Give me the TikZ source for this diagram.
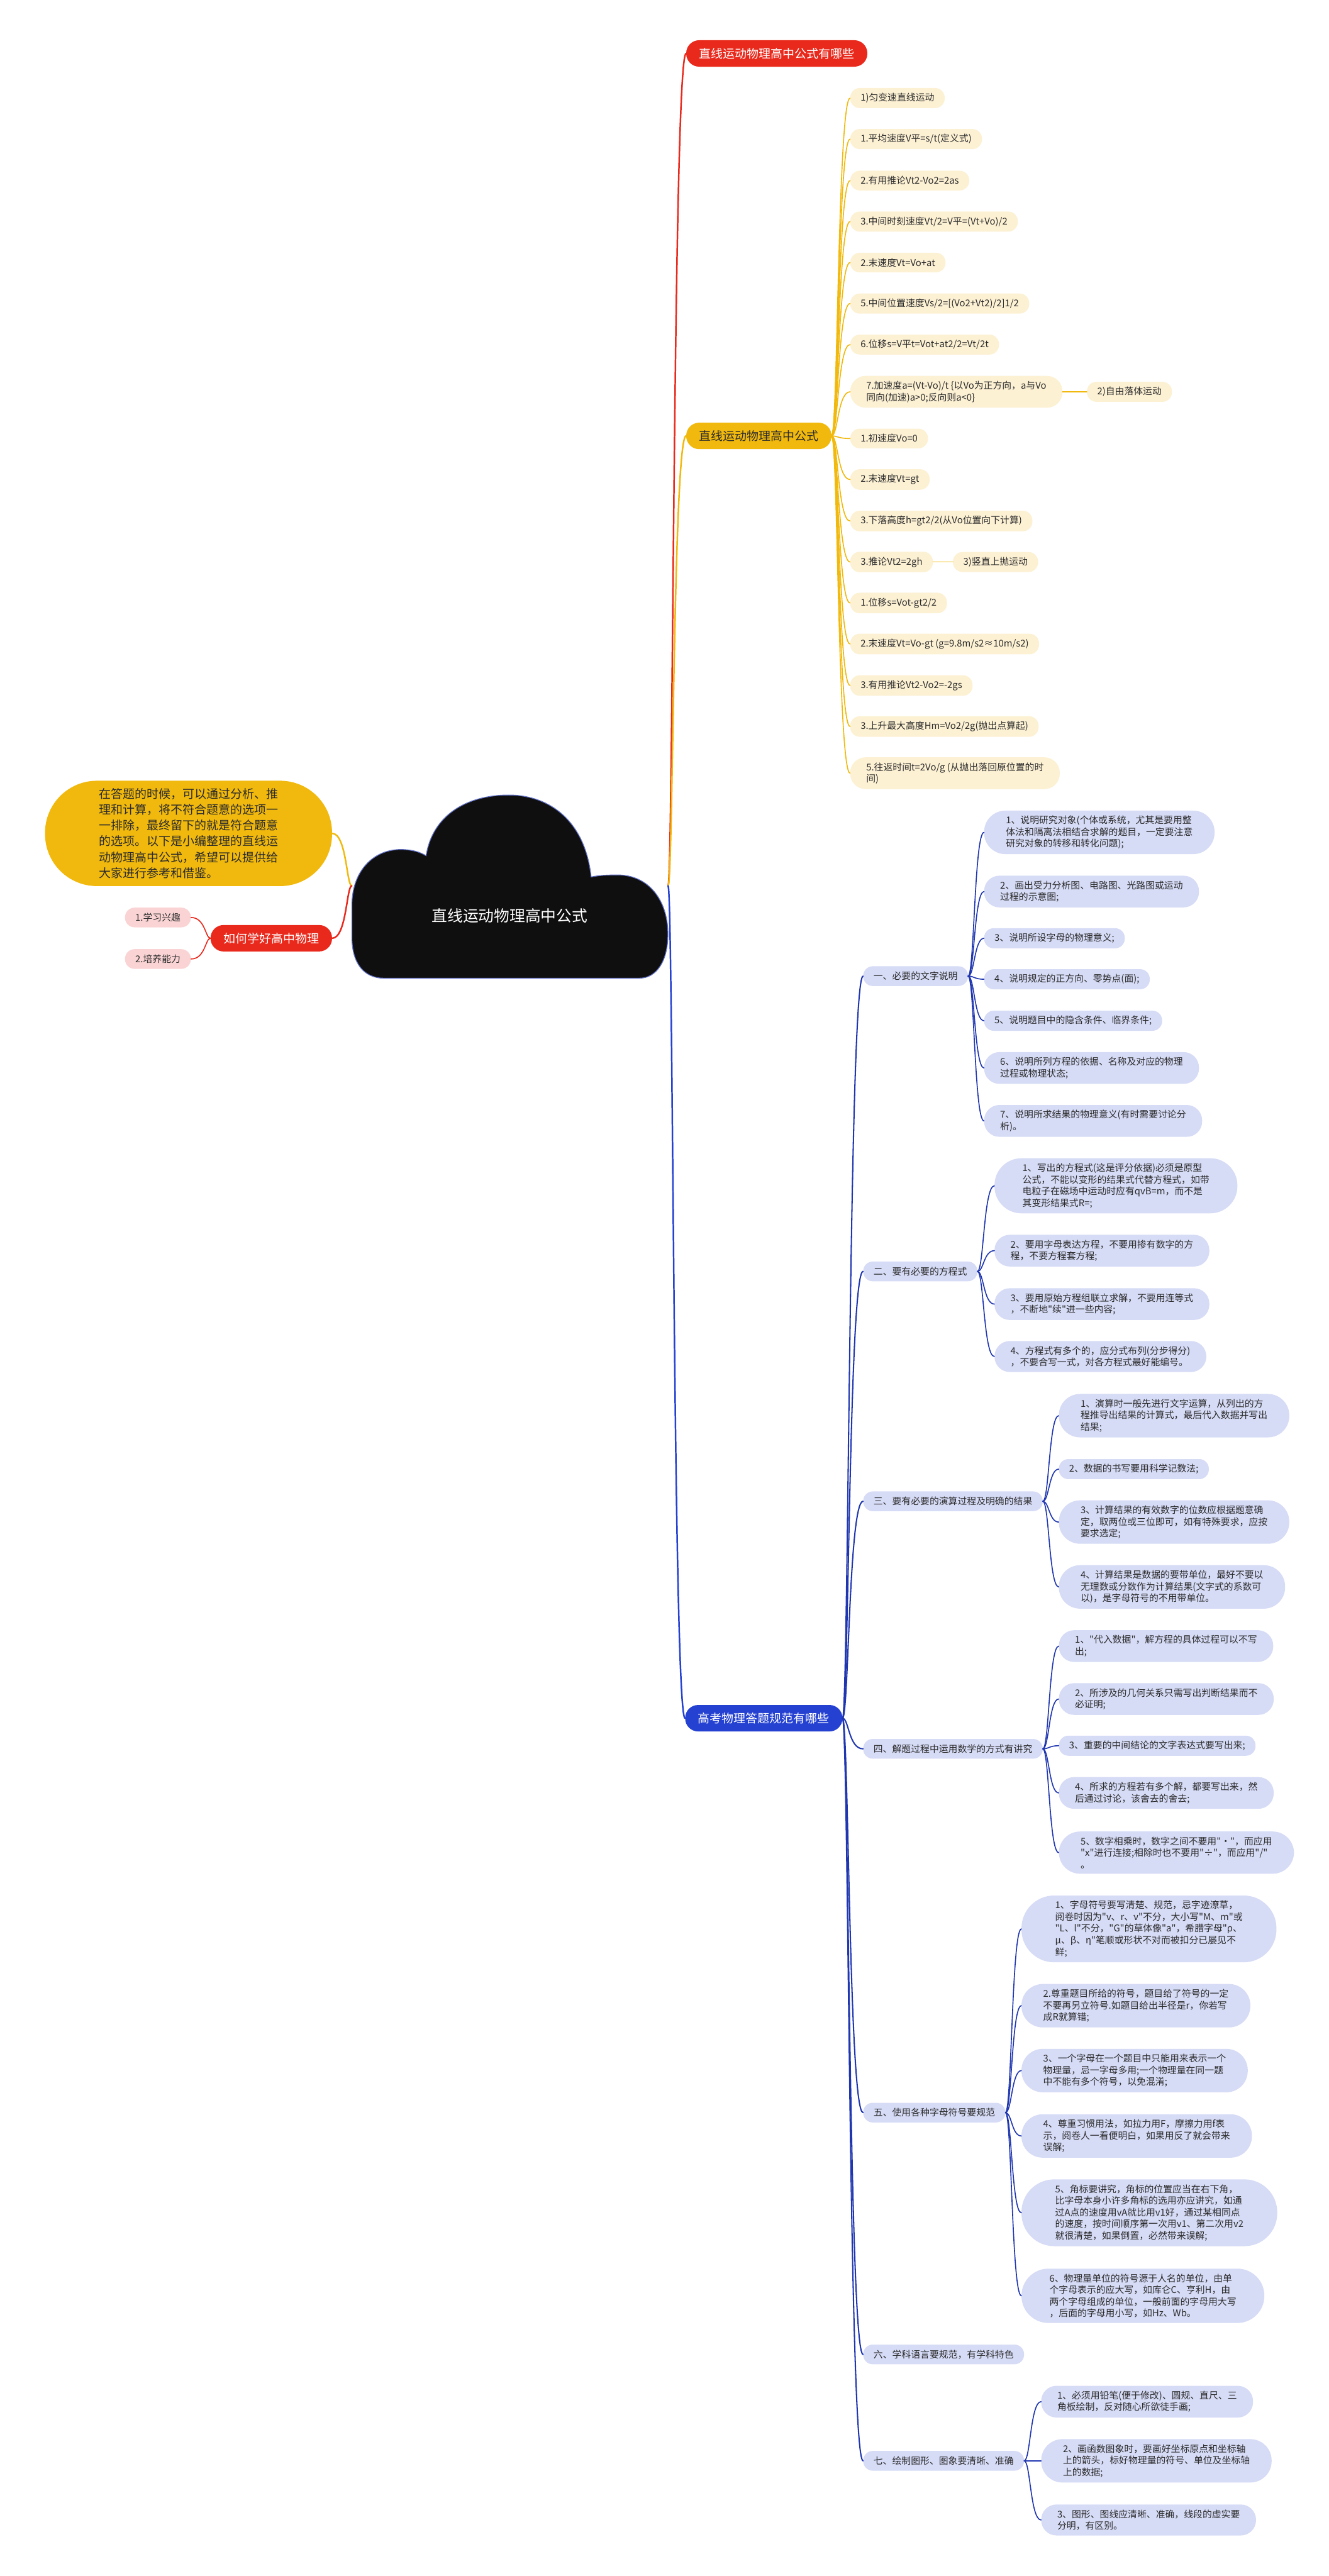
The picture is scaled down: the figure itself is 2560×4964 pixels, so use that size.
\documentclass[tikz,border=0pt]{standalone}
\usepackage{fontspec}
\usepackage{tikz}
\usetikzlibrary{calc}
\newfontfamily\cjk{Noto Sans CJK SC}
\definecolor{mapred}{HTML}{E9291C}
\definecolor{mapgold}{HTML}{F1B90D}
\definecolor{mapcream}{HTML}{FDF1D4}
\definecolor{mapblue}{HTML}{2441D2}
\definecolor{mapline}{HTML}{1F36B0}
\definecolor{maplav}{HTML}{D6DBF6}
\definecolor{mappink}{HTML}{FAD4D4}
\definecolor{mapink}{HTML}{2B2B2B}
\definecolor{cloudink}{HTML}{0F0F10}
\tikzset{
  topic/.style={rectangle, rounded corners=25pt, fill=#1, text=white, inner xsep=25pt, inner ysep=0pt,
                minimum height=51pt, font=\cjk\fontsize{23}{28}\selectfont},
  leaf/.style={rectangle, rounded corners=18.5pt, fill=#1, text=mapink, inner xsep=20pt, inner ysep=10pt,
               minimum height=38pt, align=left, font=\cjk\fontsize{18}{22.5}\selectfont},
  lines2/.style={rounded corners=29.5pt, inner xsep=31pt},
  lines3/.style={rounded corners=41pt, inner xsep=42pt},
  lines4/.style={rounded corners=52pt, inner xsep=54pt},
  lines5/.style={rounded corners=63pt, inner xsep=65pt},
  notebox/.style={rectangle, rounded corners=100pt, fill=mapgold, text=mapink, inner xsep=104pt, inner ysep=14pt,
                  minimum height=203pt, align=left, font=\cjk\fontsize{23}{30.5}\selectfont},
  rootbox/.style={rectangle, minimum width=609pt, minimum height=355pt, inner sep=0pt},
  roottitle/.style={text=white, inner sep=0pt, font=\cjk\fontsize{30}{36}\selectfont},
  trunk/.style={draw=#1, line width=3pt, line cap=round},
  twig/.style={draw=#1, line width=2pt, line cap=round},
}
% curve from a parent's east side to a child's west side
\newcommand{\mapcurve}[3]{\draw[#1] (#2.east) .. controls ($(#2.east)+(12,0)$) and ($(#2.east |- #3.west)+(12,0)$) .. (#3.west);}

\begin{document}
\begin{tikzpicture}[x=1pt,y=-1pt]
\useasboundingbox (0,0) rectangle (2560,4964);

% cloud
\filldraw[fill=cloudink, draw=mapline!70, line width=1.5pt] (740,1885)
  .. controls (700,1885) and (678,1855) .. (678,1805) -- (678,1745)
  .. controls (678,1680) and (718,1637) .. (772,1637)
  .. controls (792,1637) and (808,1641) .. (821,1649)
  .. controls (833,1572) and (898,1532) .. (980,1532)
  .. controls (1062,1532) and (1128,1585) .. (1139,1690)
  .. controls (1152,1687) and (1168,1686) .. (1190,1686)
  .. controls (1250,1686) and (1287,1735) .. (1287,1800)
  .. controls (1287,1852) and (1265,1885) .. (1232,1885) -- cycle;
\node[rootbox] (root) at (982.5,1707) {};
\node[roottitle] (title) at (982,1765) {直线运动物理高中公式};

% left side
\node[notebox, anchor=east] (note) at (640,1606) {在答题的时候，可以通过分析、推\\理和计算，将不符合题意的选项一\\一排除，最终留下的就是符合题意\\的选项。以下是小编整理的直线运\\动物理高中公式，希望可以提供给\\大家进行参考和借鉴。};
\node[topic=mapred, anchor=east] (howto) at (640,1808) {如何学好高中物理};
\node[leaf=mappink, anchor=east] (p1) at (368,1768) {1.学习兴趣};
\node[leaf=mappink, anchor=east] (p2) at (368,1848) {2.培养能力};

\draw[trunk=mapgold] (root.west) .. controls ($(root.west)+(-10,0)$) and ($(root.west |- note.east)+(-10,0)$) .. (note.east);
\draw[trunk=mapred] (root.west) .. controls ($(root.west)+(-10,0)$) and ($(root.west |- howto.east)+(-10,0)$) .. (howto.east);
\foreach \p in {p1,p2}
  \draw[twig=mapred] (howto.west) .. controls ($(howto.west)+(-10,0)$) and ($(howto.west |- \p.east)+(-10,0)$) .. (\p.east);

% main branches
\node[topic=mapred, anchor=west] (rb) at (1322,103) {直线运动物理高中公式有哪些};
\node[topic=mapgold, text=mapink, anchor=west] (yb) at (1322,840) {直线运动物理高中公式};
\node[topic=mapblue, anchor=west] (bb) at (1320,3311) {高考物理答题规范有哪些};

\draw[trunk=mapred] (root.east) .. controls ($(root.east)+(10,0)$) and ($(root.east |- rb.west)+(10,0)$) .. (rb.west);
\draw[trunk=mapgold] (root.east) .. controls ($(root.east)+(10,0)$) and ($(root.east |- yb.west)+(10,0)$) .. (yb.west);
\draw[trunk=mapblue] (root.east) .. controls ($(root.east)+(10,0)$) and ($(root.east |- bb.west)+(10,0)$) .. (bb.west);

% formulas
\node[leaf=mapcream, anchor=west] (y1) at (1638,189) {1)匀变速直线运动};
\node[leaf=mapcream, anchor=west] (y2) at (1638,268) {1.平均速度V平=s/t(定义式)};
\node[leaf=mapcream, anchor=west] (y3) at (1638,348) {2.有用推论Vt2-Vo2=2as};
\node[leaf=mapcream, anchor=west] (y4) at (1638,427) {3.中间时刻速度Vt/2=V平=(Vt+Vo)/2};
\node[leaf=mapcream, anchor=west] (y5) at (1638,506) {2.末速度Vt=Vo+at};
\node[leaf=mapcream, anchor=west] (y6) at (1638,585) {5.中间位置速度Vs/2=[(Vo2+Vt2)/2]1/2};
\node[leaf=mapcream, anchor=west] (y7) at (1638,664) {6.位移s=V平t=Vot+at2/2=Vt/2t};
\node[leaf=mapcream, lines2, anchor=west] (y8) at (1638,755) {7.加速度a=(Vt-Vo)/t \{以Vo为正方向，a与Vo\\同向(加速)a>0;反向则a<0\}};
\node[leaf=mapcream, anchor=west] (y9) at (1638,845) {1.初速度Vo=0};
\node[leaf=mapcream, anchor=west] (y10) at (1638,924) {2.末速度Vt=gt};
\node[leaf=mapcream, anchor=west] (y11) at (1638,1004) {3.下落高度h=gt2/2(从Vo位置向下计算)};
\node[leaf=mapcream, anchor=west] (y12) at (1638,1083) {3.推论Vt2=2gh};
\node[leaf=mapcream, anchor=west] (y13) at (1638,1162) {1.位移s=Vot-gt2/2};
\node[leaf=mapcream, anchor=west] (y14) at (1638,1241) {2.末速度Vt=Vo-gt (g=9.8m/s2≈10m/s2)};
\node[leaf=mapcream, anchor=west] (y15) at (1638,1321) {3.有用推论Vt2-Vo2=-2gs};
\node[leaf=mapcream, anchor=west] (y16) at (1638,1400) {3.上升最大高度Hm=Vo2/2g(抛出点算起)};
\node[leaf=mapcream, lines2, anchor=west] (y17) at (1638,1490) {5.往返时间t=2Vo/g (从抛出落回原位置的时\\间)};
\node[leaf=mapcream, anchor=west] (yfall) at (2094,755) {2)自由落体运动};
\node[leaf=mapcream, anchor=west] (yup) at (1836,1083) {3)竖直上抛运动};

\foreach \n in {1,...,17} {\mapcurve{twig=mapgold}{yb}{y\n}}
\draw[twig=mapgold] (y8.east) -- (yfall.west);
\draw[twig=mapgold] (y12.east) -- (yup.west);

% answer rules
\node[leaf=maplav, anchor=west] (s1) at (1663,1881) {一、必要的文字说明};
\node[leaf=maplav, anchor=west] (s2) at (1663,2450) {二、要有必要的方程式};
\node[leaf=maplav, anchor=west] (s3) at (1663,2893) {三、要有必要的演算过程及明确的结果};
\node[leaf=maplav, anchor=west] (s4) at (1663,3370) {四、解题过程中运用数学的方式有讲究};
\node[leaf=maplav, anchor=west] (s5) at (1663,4071) {五、使用各种字母符号要规范};
\node[leaf=maplav, anchor=west] (s6) at (1663,4537) {六、学科语言要规范，有学科特色};
\node[leaf=maplav, anchor=west] (s7) at (1663,4742) {七、绘制图形、图象要清晰、准确};
\foreach \n in {1,...,7} {\mapcurve{twig=mapline, line width=2.5pt}{bb}{s\n}}

\node[leaf=maplav, lines3, anchor=west] (s1i1) at (1896,1604) {1、说明研究对象(个体或系统，尤其是要用整\\体法和隔离法相结合求解的题目，一定要注意\\研究对象的转移和转化问题);};
\node[leaf=maplav, lines2, anchor=west] (s1i2) at (1896,1718) {2、画出受力分析图、电路图、光路图或运动\\过程的示意图;};
\node[leaf=maplav, anchor=west] (s1i3) at (1896,1808) {3、说明所设字母的物理意义;};
\node[leaf=maplav, anchor=west] (s1i4) at (1896,1887) {4、说明规定的正方向、零势点(面);};
\node[leaf=maplav, anchor=west] (s1i5) at (1896,1967) {5、说明题目中的隐含条件、临界条件;};
\node[leaf=maplav, lines2, anchor=west] (s1i6) at (1896,2058) {6、说明所列方程的依据、名称及对应的物理\\过程或物理状态;};
\node[leaf=maplav, lines2, anchor=west] (s1i7) at (1896,2160) {7、说明所求结果的物理意义(有时需要讨论分\\析)。};
\foreach \n in {1,...,7} {\mapcurve{twig=mapline}{s1}{s1i\n}}

\node[leaf=maplav, lines4, anchor=west] (s2i1) at (1916,2285) {1、写出的方程式(这是评分依据)必须是原型\\公式，不能以变形的结果式代替方程式，如带\\电粒子在磁场中运动时应有qvB=m，而不是\\其变形结果式R=;};
\node[leaf=maplav, lines2, anchor=west] (s2i2) at (1916,2410) {2、要用字母表达方程，不要用掺有数字的方\\程，不要方程套方程;};
\node[leaf=maplav, lines2, anchor=west] (s2i3) at (1916,2513) {3、要用原始方程组联立求解，不要用连等式\\，不断地"续"进一些内容;};
\node[leaf=maplav, lines2, anchor=west] (s2i4) at (1916,2614) {4、方程式有多个的，应分式布列(分步得分)\\，不要合写一式，对各方程式最好能编号。};
\foreach \n in {1,...,4} {\mapcurve{twig=mapline}{s2}{s2i\n}}

\node[leaf=maplav, lines3, anchor=west] (s3i1) at (2040,2728) {1、演算时一般先进行文字运算，从列出的方\\程推导出结果的计算式，最后代入数据并写出\\结果;};
\node[leaf=maplav, anchor=west] (s3i2) at (2040,2831) {2、数据的书写要用科学记数法;};
\node[leaf=maplav, lines3, anchor=west] (s3i3) at (2040,2933) {3、计算结果的有效数字的位数应根据题意确\\定，取两位或三位即可，如有特殊要求，应按\\要求选定;};
\node[leaf=maplav, lines3, anchor=west] (s3i4) at (2040,3058) {4、计算结果是数据的要带单位，最好不要以\\无理数或分数作为计算结果(文字式的系数可\\以)，是字母符号的不用带单位。};
\foreach \n in {1,...,4} {\mapcurve{twig=mapline}{s3}{s3i\n}}

\node[leaf=maplav, lines2, anchor=west] (s4i1) at (2040,3172) {1、"代入数据"，解方程的具体过程可以不写\\出;};
\node[leaf=maplav, lines2, anchor=west] (s4i2) at (2040,3274) {2、所涉及的几何关系只需写出判断结果而不\\必证明;};
\node[leaf=maplav, anchor=west] (s4i3) at (2040,3364) {3、重要的中间结论的文字表达式要写出来;};
\node[leaf=maplav, lines2, anchor=west] (s4i4) at (2040,3455) {4、所求的方程若有多个解，都要写出来，然\\后通过讨论，该舍去的舍去;};
\node[leaf=maplav, lines3, anchor=west] (s4i5) at (2040,3570) {5、数字相乘时，数字之间不要用"·"，而应用\\"x"进行连接;相除时也不要用"÷"，而应用"/"\\。};
\foreach \n in {1,...,5} {\mapcurve{twig=mapline}{s4}{s4i\n}}

\node[leaf=maplav, lines5, anchor=west] (s5i1) at (1968,3717) {1、字母符号要写清楚、规范，忌字迹潦草，\\阅卷时因为"v、r、ν"不分，大小写"M、m"或\\"L、l"不分，"G"的草体像"a"，希腊字母"ρ、\\μ、β、η"笔顺或形状不对而被扣分已屡见不\\鲜;};
\node[leaf=maplav, lines3, anchor=west] (s5i2) at (1968,3865) {2.尊重题目所给的符号，题目给了符号的一定\\不要再另立符号.如题目给出半径是r，你若写\\成R就算错;};
\node[leaf=maplav, lines3, anchor=west] (s5i3) at (1968,3990) {3、一个字母在一个题目中只能用来表示一个\\物理量，忌一字母多用;一个物理量在同一题\\中不能有多个符号，以免混淆;};
\node[leaf=maplav, lines3, anchor=west] (s5i4) at (1968,4116) {4、尊重习惯用法，如拉力用F，摩擦力用f表\\示，阅卷人一看便明白，如果用反了就会带来\\误解;};
\node[leaf=maplav, lines5, anchor=west] (s5i5) at (1968,4264) {5、角标要讲究，角标的位置应当在右下角，\\比字母本身小许多角标的选用亦应讲究，如通\\过A点的速度用vA就比用v1好，通过某相同点\\的速度，按时间顺序第一次用v1、第二次用v2\\就很清楚，如果倒置，必然带来误解;};
\node[leaf=maplav, lines4, anchor=west] (s5i6) at (1968,4424) {6、物理量单位的符号源于人名的单位，由单\\个字母表示的应大写，如库仑C、亨利H，由\\两个字母组成的单位，一般前面的字母用大写\\，后面的字母用小写，如Hz、Wb。};
\foreach \n in {1,...,6} {\mapcurve{twig=mapline}{s5}{s5i\n}}

\node[leaf=maplav, lines2, anchor=west] (s7i1) at (2006,4628) {1、必须用铅笔(便于修改)、圆规、直尺、三\\角板绘制，反对随心所欲徒手画;};
\node[leaf=maplav, lines3, anchor=west] (s7i2) at (2006,4742) {2、画函数图象时，要画好坐标原点和坐标轴\\上的箭头，标好物理量的符号、单位及坐标轴\\上的数据;};
\node[leaf=maplav, lines2, anchor=west] (s7i3) at (2006,4856) {3、图形、图线应清晰、准确，线段的虚实要\\分明，有区别。};
\foreach \n in {1,...,3} {\mapcurve{twig=mapline}{s7}{s7i\n}}
\end{tikzpicture}
\end{document}
